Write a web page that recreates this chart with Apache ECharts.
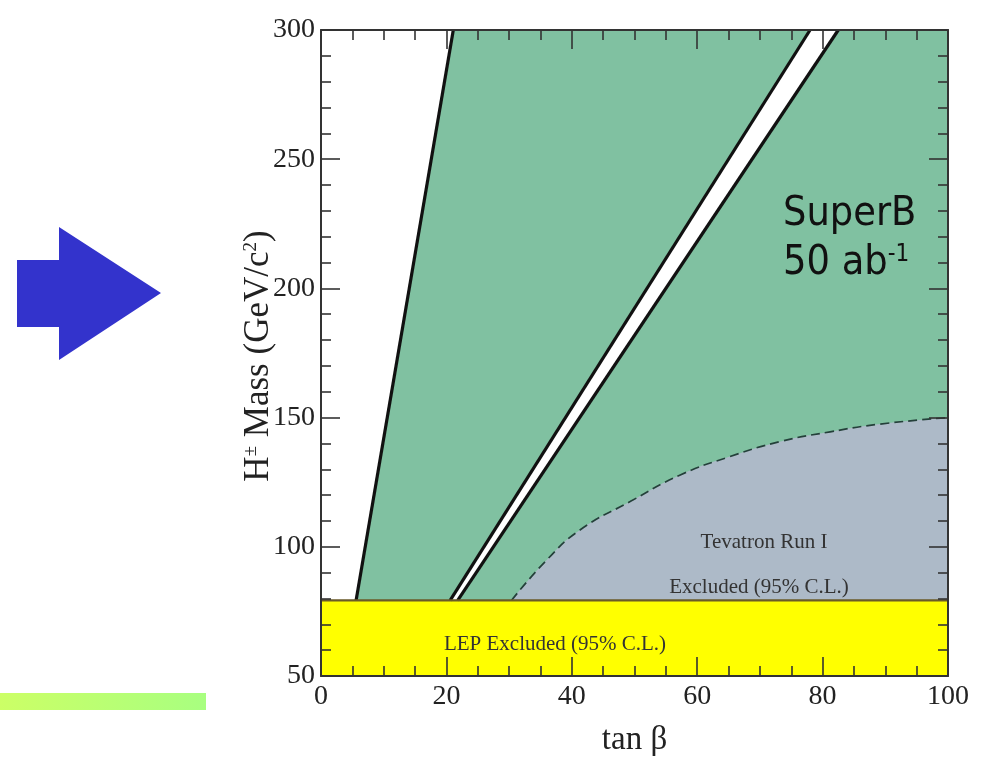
<!DOCTYPE html>
<html>
<head>
<meta charset="utf-8">
<script src="https://cdn.jsdelivr.net/npm/echarts@6/dist/echarts.min.js"></script>
<style>
  html, body { margin: 0; padding: 0; background: #ffffff; }
  #chart { width: 985px; height: 760px; }
</style>
</head>
<body>
<div id="chart"></div>
<script>
// Axis ranges and tick labels
const tanBetaTicks = [0, 20, 40, 60, 80, 100];
const massTicks = [50, 100, 150, 200, 250, 300];

// LEP lower limit on the charged Higgs mass (GeV/c^2)
const lepLimit = 79.3;

// Exclusion contours in the (tan beta, m_H) plane
const leftContour = [[5.6, 79.3], [21.1, 300]];
const bandLeft = [[20.6, 79.3], [78.0, 300]];
const bandRight = [[21.8, 79.3], [82.5, 300]];
const tevatronEdge = [
  [30.4, 79.3], [36.0, 94.9], [41.3, 106.5], [49.3, 117.5], [57.3, 127.8],
  [65.2, 134.9], [73.2, 140.7], [81.2, 144.5], [89.2, 147.5], [100, 150.0]
];

const xMin = tanBetaTicks[0], xMax = tanBetaTicks[tanBetaTicks.length - 1];
const yMin = massTicks[0], yMax = massTicks[massTicks.length - 1];

// Filled regions, built from the contours above
const greenRegion = [[xMin, lepLimit], [xMax, lepLimit], [xMax, yMax], [xMin, yMax]];
const openLeftRegion = [[xMin, lepLimit]].concat(leftContour, [[xMin, yMax]]);
const openBandRegion = bandLeft.concat(bandRight.slice().reverse());
const lepRegion = [[xMin, yMin], [xMax, yMin], [xMax, lepLimit], [xMin, lepLimit]];
const lepBorder = [[xMin, lepLimit], [xMax, lepLimit]];

const GREEN = '#80c1a1';
const GREY = '#adbac8';
const YELLOW = '#ffff00';
const SERIF = '"Liberation Serif", "DejaVu Serif", serif';
const SANS = '"DejaVu Sans Condensed", "DejaVu Sans", sans-serif';

function regionSeries(points, color, z) {
  return {
    type: 'custom',
    data: points,
    encode: { x: 0, y: 1 },
    z: z,
    silent: true,
    animation: false,
    renderItem: function (params, api) {
      if (params.dataIndex !== 0) return null;
      return {
        type: 'polygon',
        shape: { points: points.map(function (p) { return api.coord(p); }) },
        style: { fill: color, stroke: null }
      };
    }
  };
}

function lineSeries(points, color, width, dash, z) {
  return {
    type: 'line',
    data: points,
    showSymbol: false,
    symbol: 'none',
    silent: true,
    animation: false,
    z: z,
    lineStyle: { color: color, width: width, type: dash || 'solid' }
  };
}

const tickStyle = { color: '#333', width: 1.6 };

function xAxis(position, showLabels) {
  return {
    type: 'value', position: position, min: xMin, max: xMax, interval: 20, z: 10,
    axisLine: { show: true, onZero: false, lineStyle: { color: '#333', width: 2 } },
    axisTick: { show: true, inside: true, length: 19, lineStyle: tickStyle },
    minorTick: { show: true, splitNumber: 4, length: 10, lineStyle: tickStyle },
    splitLine: { show: false },
    axisLabel: {
      show: showLabels, margin: 7, fontFamily: SERIF, fontSize: 28, color: '#222',
      showMinLabel: true, showMaxLabel: true, hideOverlap: false
    },
    name: showLabels ? 'tan β' : '',
    nameLocation: 'middle', nameGap: 48,
    nameTextStyle: { fontFamily: SERIF, fontSize: 33, color: '#222' }
  };
}

function yAxis(position, showLabels) {
  return {
    type: 'value', position: position, min: yMin, max: yMax, interval: 50, z: 10,
    axisLine: { show: true, onZero: false, lineStyle: { color: '#333', width: 2 } },
    axisTick: { show: true, inside: true, length: 19, lineStyle: tickStyle },
    minorTick: { show: true, splitNumber: 5, length: 10, lineStyle: tickStyle },
    splitLine: { show: false },
    axisLabel: {
      show: showLabels, margin: 6, fontFamily: SERIF, fontSize: 28, color: '#222',
      showMinLabel: true, showMaxLabel: true, hideOverlap: false
    }
  };
}

const chart = echarts.init(document.getElementById('chart'), null, { renderer: 'canvas' });

chart.setOption({
  backgroundColor: '#ffffff',
  animation: false,
  grid: { left: 321, right: 37, top: 30, bottom: 84, containLabel: false, outerBoundsMode: 'none' },
  xAxis: [xAxis('bottom', true), xAxis('top', false)],
  yAxis: [yAxis('left', true), yAxis('right', false)],
  series: [
    regionSeries(greenRegion, GREEN, 1),
    regionSeries(openLeftRegion, '#ffffff', 2),
    regionSeries(openBandRegion, '#ffffff', 2),
    // Tevatron Run I exclusion: area under the dashed contour (lower part is covered by the LEP band)
    {
      type: 'line',
      data: tevatronEdge,
      smooth: 0.5,
      showSymbol: false,
      symbol: 'none',
      silent: true,
      animation: false,
      z: 2,
      lineStyle: { color: '#24403a', width: 1.7, type: [9, 5] },
      areaStyle: { color: GREY, opacity: 1, origin: 'start' }
    },
    regionSeries(lepRegion, YELLOW, 3),
    lineSeries(leftContour, '#111', 3.2, null, 4),
    lineSeries(bandLeft, '#111', 3.2, null, 4),
    lineSeries(bandRight, '#111', 3.2, null, 4),
    lineSeries(lepBorder, '#6a5a28', 2.2, null, 5)
  ],
  graphic: [
    {
      type: 'polygon', silent: true, z: 50,
      shape: { points: [[17, 260], [59, 260], [59, 227], [161, 293], [59, 360], [59, 327], [17, 327]] },
      style: { fill: '#3333cc' }
    },
    {
      type: 'rect', silent: true, z: 50,
      shape: { x: 0, y: 693, width: 206, height: 17 },
      style: {
        fill: new echarts.graphic.LinearGradient(0, 0, 1, 0, [
          { offset: 0, color: '#ccff66' },
          { offset: 1, color: '#a8ff80' }
        ])
      }
    },
    {
      type: 'text', silent: true, z: 50, x: 259, y: 356, rotation: Math.PI / 2,
      style: {
        text: '{m|H}{s|±}{m| Mass (GeV/c}{s|2}{m|)}',
        align: 'center', verticalAlign: 'middle',
        rich: {
          m: { fontFamily: SERIF, fontSize: 35, fill: '#222', verticalAlign: 'bottom' },
          s: { fontFamily: SERIF, fontSize: 19, fill: '#222', verticalAlign: 'top', padding: [0, 0, 13, 0] }
        }
      }
    },
    {
      type: 'text', silent: true, z: 50, x: 783, y: 214,
      style: {
        text: 'SuperB', fontFamily: SANS,
        fontSize: 41, fill: '#111', align: 'left', verticalAlign: 'middle'
      }
    },
    {
      type: 'text', silent: true, z: 50, x: 783, y: 263,
      style: {
        text: '{m|50 ab}{s|-1}', align: 'left', verticalAlign: 'middle',
        rich: {
          m: { fontFamily: SANS, fontSize: 41, fill: '#111', verticalAlign: 'bottom' },
          s: { fontFamily: SANS, fontSize: 24, fill: '#111', verticalAlign: 'top', padding: [0, 0, 16, 0] }
        }
      }
    },
    {
      type: 'text', silent: true, z: 50, x: 764, y: 542,
      style: { text: 'Tevatron Run I', fontFamily: SERIF, fontSize: 21, fill: '#333', align: 'center', verticalAlign: 'middle' }
    },
    {
      type: 'text', silent: true, z: 50, x: 759, y: 587,
      style: { text: 'Excluded (95% C.L.)', fontFamily: SERIF, fontSize: 21, fill: '#333', align: 'center', verticalAlign: 'middle' }
    },
    {
      type: 'text', silent: true, z: 50, x: 555, y: 644,
      style: { text: 'LEP Excluded (95% C.L.)', fontFamily: SERIF, fontSize: 21, fill: '#333', align: 'center', verticalAlign: 'middle' }
    }
  ]
});
</script>
</body>
</html>
